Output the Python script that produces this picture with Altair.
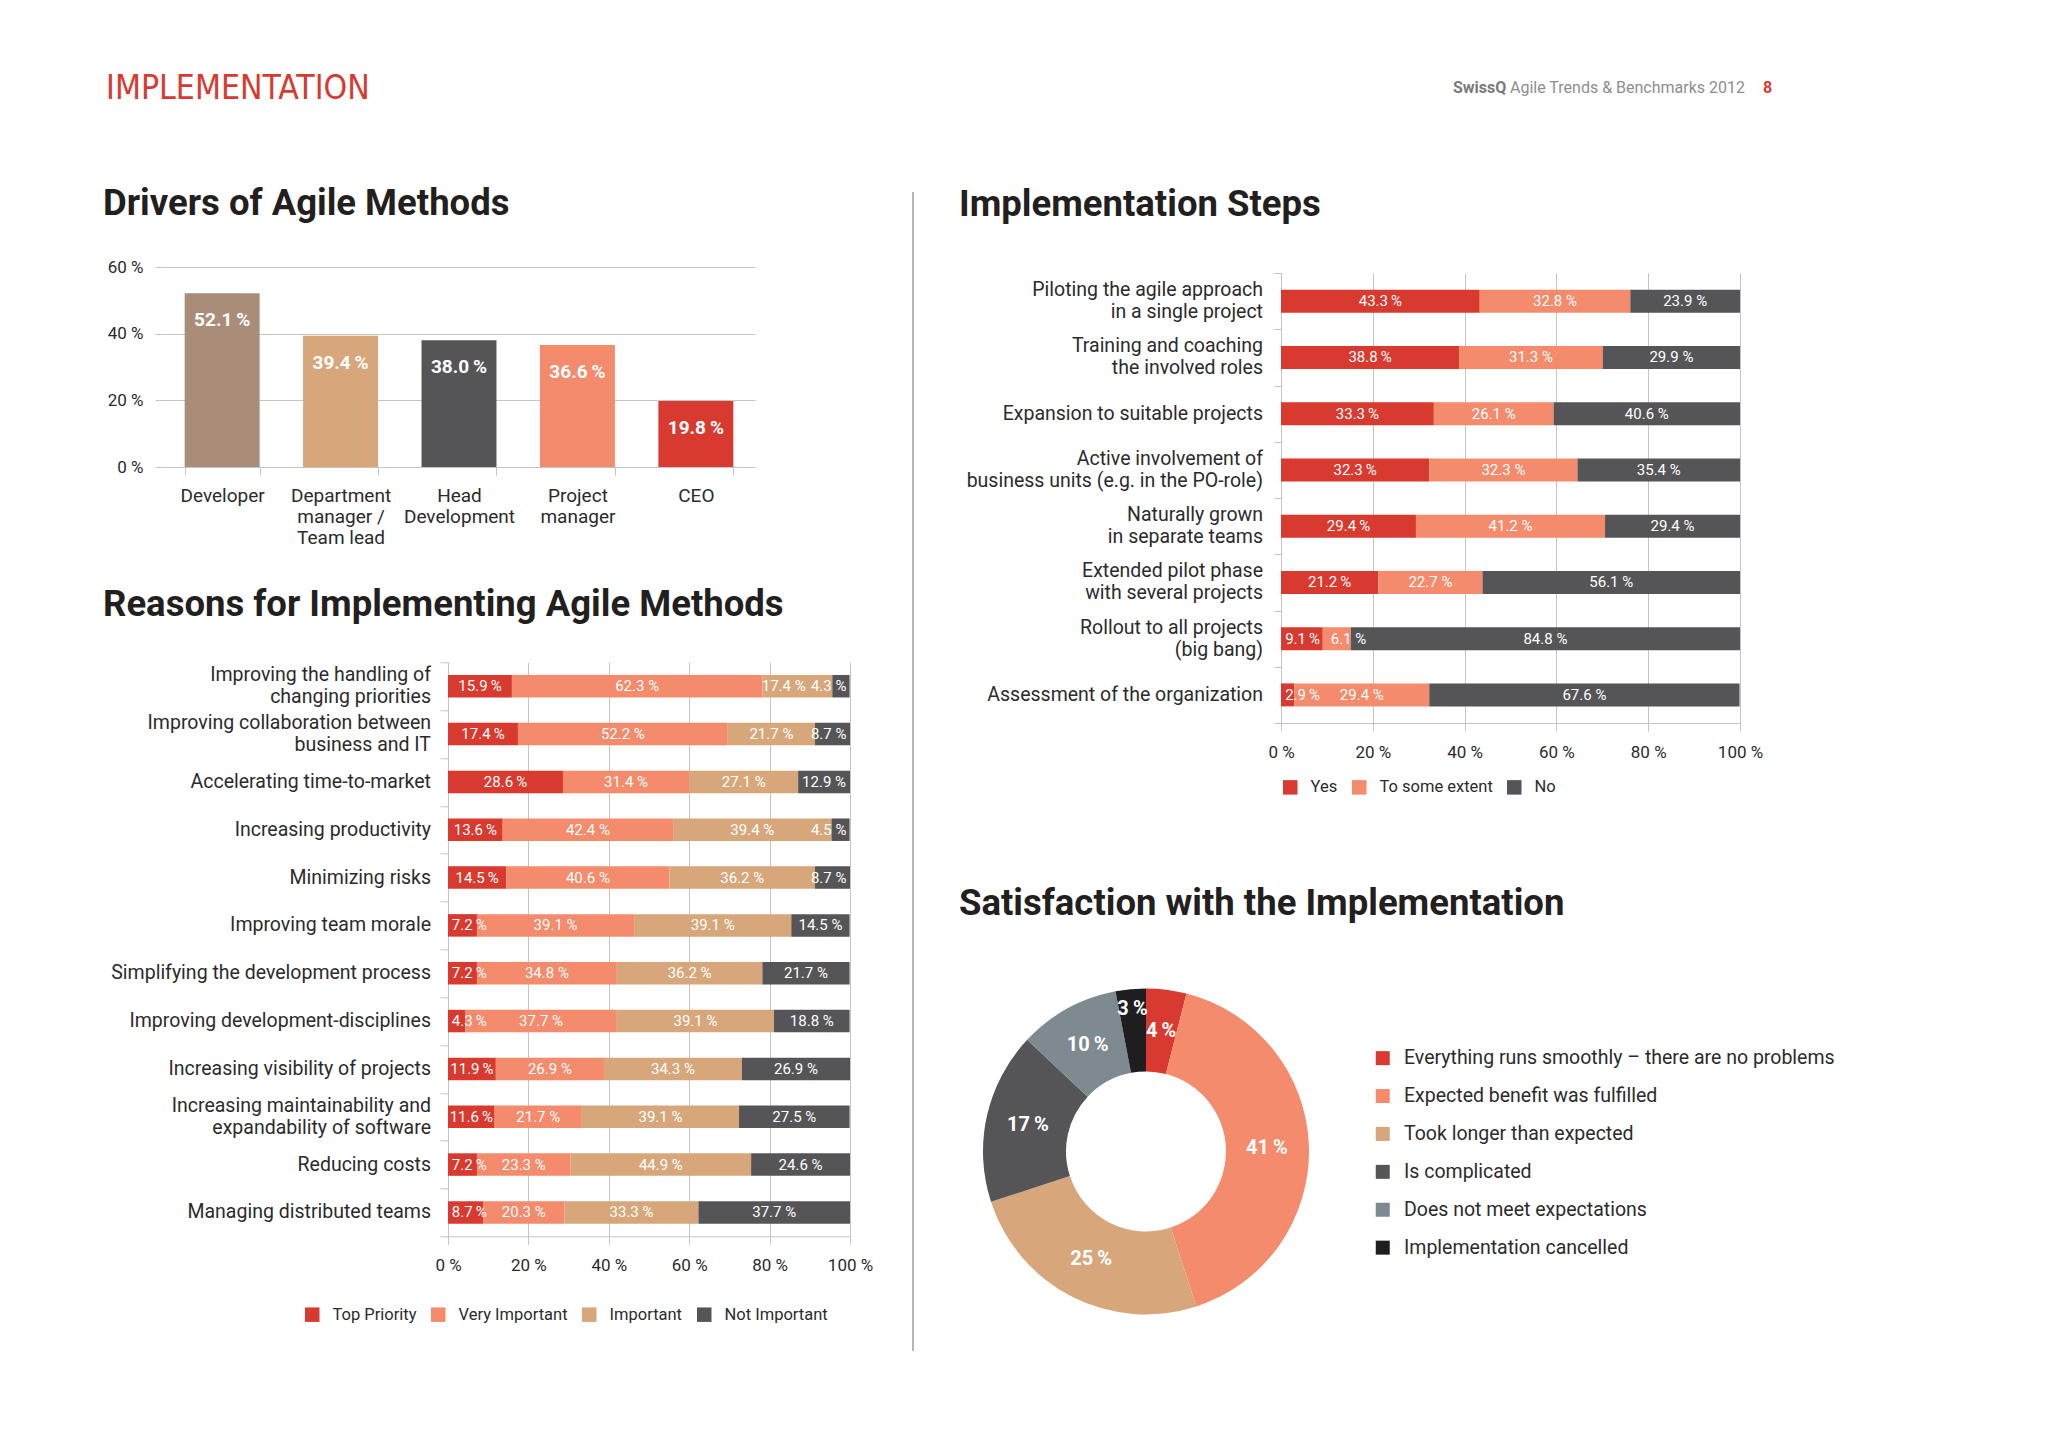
import altair as alt
import pandas as pd

FONT = "Roboto, 'DejaVu Sans', sans-serif"
HEAD_FONT = "'Liberation Sans Narrow', 'DejaVu Sans Condensed', Roboto, sans-serif"
INK = "#231f20"
LABEL = "#2b2b2b"
GRID = "#c4c4c4"
RED = "#d93a2f"
SALMON = "#f38b6c"
TAN = "#d7a77b"
BROWN = "#a98d79"
DARK = "#555557"
SLATE = "#7e8a90"
BLACK = "#1e1e21"

# ---------------- data ----------------
driver_roles = ["Developer", "Department\nmanager /\nTeam lead", "Head\nDevelopment",
                "Project\nmanager", "CEO"]
driver_share = [52.1, 39.4, 38.0, 36.6, 19.8]
driver_colors = [BROWN, TAN, DARK, SALMON, RED]

reason_items = [
    "Improving the handling of\nchanging priorities",
    "Improving collaboration between\nbusiness and IT",
    "Accelerating time-to-market",
    "Increasing productivity",
    "Minimizing risks",
    "Improving team morale",
    "Simplifying the development process",
    "Improving development-disciplines",
    "Increasing visibility of projects",
    "Increasing maintainability and\nexpandability of software",
    "Reducing costs",
    "Managing distributed teams",
]
reason_levels = ["Top Priority", "Very Important", "Important", "Not Important"]
reason_top = [15.9, 17.4, 28.6, 13.6, 14.5, 7.2, 7.2, 4.3, 11.9, 11.6, 7.2, 8.7]
reason_very = [62.3, 52.2, 31.4, 42.4, 40.6, 39.1, 34.8, 37.7, 26.9, 21.7, 23.3, 20.3]
reason_imp = [17.4, 21.7, 27.1, 39.4, 36.2, 39.1, 36.2, 39.1, 34.3, 39.1, 44.9, 33.3]
reason_not = [4.3, 8.7, 12.9, 4.5, 8.7, 14.5, 21.7, 18.8, 26.9, 27.5, 24.6, 37.7]
reason_colors = [RED, SALMON, TAN, DARK]

step_items = [
    "Piloting the agile approach\nin a single project",
    "Training and coaching\nthe involved roles",
    "Expansion to suitable projects",
    "Active involvement of\nbusiness units (e.g. in the PO-role)",
    "Naturally grown\nin separate teams",
    "Extended pilot phase\nwith several projects",
    "Rollout to all projects\n(big bang)",
    "Assessment of the organization",
]
step_levels = ["Yes", "To some extent", "No"]
step_yes = [43.3, 38.8, 33.3, 32.3, 29.4, 21.2, 9.1, 2.9]
step_some = [32.8, 31.3, 26.1, 32.3, 41.2, 22.7, 6.1, 29.4]
step_no = [23.9, 29.9, 40.6, 35.4, 29.4, 56.1, 84.8, 67.6]
step_colors = [RED, SALMON, DARK]

sat_answers = [
    "Everything runs smoothly \u2013 there are no problems",
    "Expected benefit was fulfilled",
    "Took longer than expected",
    "Is complicated",
    "Does not meet expectations",
    "Implementation cancelled",
]
sat_share = [4, 41, 25, 17, 10, 3]
sat_colors = [RED, SALMON, TAN, DARK, SLATE, BLACK]

deco_df = pd.DataFrame({"k": [0]})
deco = alt.Chart(deco_df)


def heading(text, x, y):
    # section heading, placed relative to the plot area it belongs to
    return deco.mark_text(text=text, fontSize=36.5, fontWeight="bold", color=INK, font=FONT,
                          align="left", baseline="alphabetic").encode(
        x=alt.value(x), y=alt.value(y))


# ---------------- drivers ----------------
drivers_df = pd.DataFrame({
    "role": driver_roles,
    "share": driver_share,
    "label": [f"{v:.1f}\u2009%" for v in driver_share],
})
drv_x = alt.X("role:N", sort=driver_roles,
              scale=alt.Scale(paddingInner=0.367, paddingOuter=0.183),
              axis=alt.Axis(title=None, labelAngle=0, labelExpr="split(datum.label, '\\n')",
                            tickBand="extent", tickSize=8, labelPadding=11, labelFontSize=19,
                            labelLineHeight=21, labelColor=LABEL, domainColor=GRID,
                            tickColor=GRID, grid=False))
drv_y = alt.Y("share:Q", scale=alt.Scale(domain=[0, 60]),
              axis=alt.Axis(title=None, values=[0, 20, 40, 60], labelExpr="datum.value + ' %'",
                            domain=False, tickSize=8, tickColor=GRID, gridColor=GRID,
                            labelPadding=12, labelFontSize=17, labelColor=LABEL,
                            labelFlush=False))
drv_base = alt.Chart(drivers_df)
drv_bars = drv_base.mark_bar().encode(
    x=drv_x, y=drv_y,
    color=alt.Color("role:N", scale=alt.Scale(domain=driver_roles, range=driver_colors),
                    legend=None))
drv_text = drv_base.mark_text(baseline="top", dy=18, color="white", fontSize=19,
                              fontWeight="bold").encode(
    x=alt.X("role:N", sort=driver_roles), y="share:Q", text="label:N")
drivers = alt.layer(drv_bars, drv_text, heading("Drivers of Agile Methods", -60, -52)
                    ).properties(width=592, height=200)


# ---------------- stacked bars ----------------
def stacked_frame(items, levels, series):
    rows = []
    for rank, (level, values) in enumerate(zip(levels, series)):
        for item, v in zip(items, values):
            rows.append({"item": item, "level": level, "rank": rank, "value": v,
                         "label": f"{v:.1f}\u2009%" if rank == 0 else f"{v:.1f} %"})
    return pd.DataFrame(rows)


def category_labels(items, x):
    # category names as text, two-line names centred on their bar
    rows = []
    for it in items:
        lines = it.split("\n")
        if len(lines) == 1:
            rows.append({"item": it, "line": lines[0], "pos": 0})
        else:
            rows.append({"item": it, "line": lines[0], "pos": -1})
            rows.append({"item": it, "line": lines[1], "pos": 1})
    df = pd.DataFrame(rows)
    out = []
    for pos in (-1, 0, 1):
        out.append(alt.Chart(df).transform_filter(alt.datum.pos == pos).mark_text(
            align="right", baseline="middle", dy=11 * pos, fontSize=19.5, color=LABEL
        ).encode(y=alt.Y("item:N", sort=items), x=alt.value(x), text="line:N"))
    return out


def stacked_chart(df, items, levels, colors, width, height, bar_size, y_tick, y_pad,
                  legend_x, legend_y, ttl, tx, ty, inset):
    y = alt.Y("item:N", sort=items, scale=alt.Scale(paddingInner=0, paddingOuter=0),
              axis=alt.Axis(title=None, labels=False, tickBand="extent", tickSize=y_tick,
                            domainColor=GRID, tickColor=GRID, grid=False))
    x_axis = alt.Axis(title=None, values=[0, 20, 40, 60, 80, 100],
                      labelExpr="datum.value + ' %'", tickSize=8, labelPadding=13,
                      labelFontSize=17, labelColor=LABEL, domainColor=GRID,
                      tickColor=GRID, gridColor=GRID, labelFlush=False)
    base = alt.Chart(df)
    bars = base.mark_bar(size=bar_size).encode(
        y=y,
        x=alt.X("value:Q", stack="zero", scale=alt.Scale(domain=[0, 100]), axis=x_axis),
        color=alt.Color("level:N", scale=alt.Scale(domain=levels, range=colors),
                        legend=alt.Legend(title=None, orient="none", legendX=legend_x,
                                          legendY=legend_y, direction="horizontal",
                                          symbolType="square", symbolSize=210,
                                          symbolStrokeWidth=0, labelFontSize=16.5,
                                          labelColor=LABEL, columnPadding=13,
                                          labelOffset=12)),
        order=alt.Order("rank:Q"))
    lo_b, hi_b, gap = inset, 100 - inset, 2 * inset + 0.6
    last = len(levels) - 1
    labels = base.transform_window(
        cum="sum(value)", lagv="lag(value)", leadv="lead(value)",
        sort=[alt.SortField("rank")], groupby=["item"], frame=[None, 0]
    ).transform_calculate(
        base_mid=f"clamp(datum.cum - datum.value / 2, {lo_b}, {hi_b})",
        lo=(f"datum.rank == 1 ? clamp(datum.cum - datum.value - datum.lagv / 2, {lo_b}, {hi_b})"
            f" + {gap} : -1000"),
        hi=(f"datum.rank == {last - 1} ? clamp(datum.cum + datum.leadv / 2, {lo_b}, {hi_b})"
            f" - {gap} : 1000"),
    ).transform_calculate(
        mid="min(max(datum.base_mid, datum.lo), datum.hi)"
    ).mark_text(color="white", fontSize=15, baseline="middle").encode(
        y=alt.Y("item:N", sort=items), x="mid:Q", text="label:N")
    cats = category_labels(items, -(y_tick + y_pad))
    return alt.layer(bars, labels, *cats, heading(ttl, tx, ty)).properties(
        width=width, height=height)


reasons = stacked_chart(
    stacked_frame(reason_items, reason_levels, [reason_top, reason_very, reason_imp, reason_not]),
    reason_items, reason_levels, reason_colors, 402, 574, 22.5, 8, 9, -144, 644,
    "Reasons for Implementing Agile Methods", -345, -46.7, 5.3)

steps = stacked_chart(
    stacked_frame(step_items, step_levels, [step_yes, step_some, step_no]),
    step_items, step_levels, step_colors, 459, 450, 23, 7, 11, 1, 506,
    "Implementation Steps", -322, -57.4, 4.7)

# ---------------- satisfaction donut ----------------
sat_df = pd.DataFrame({
    "answer": sat_answers,
    "share": sat_share,
    "rank": list(range(len(sat_answers))),
    "label": [f"{v}\u2009%" for v in sat_share],
})
sat_base = alt.Chart(sat_df).encode(theta=alt.Theta("share:Q", stack=True),
                                    order=alt.Order("rank:Q"))
sat_arcs = sat_base.mark_arc(outerRadius=163, innerRadius=80).encode(
    color=alt.Color("answer:N", scale=alt.Scale(domain=sat_answers, range=sat_colors),
                    legend=alt.Legend(title=None, orient="none", legendX=390, legendY=60,
                                      symbolType="square", symbolSize=196,
                                      symbolStrokeWidth=0, labelFontSize=19.5,
                                      labelColor=LABEL, rowPadding=16.9, labelOffset=11.5,
                                      labelLimit=600)))
sat_big = sat_base.transform_calculate(txt="datum.share >= 4 ? datum.label : ''").mark_text(
    radius=121, fontSize=20, fontWeight="bold", color="white").encode(text="txt:N")
sat_small = sat_base.transform_calculate(txt="datum.share < 4 ? datum.label : ''").mark_text(
    radius=143, fontSize=20, fontWeight="bold", color="white").encode(text="txt:N")
satisfaction = alt.layer(sat_arcs, sat_big, sat_small,
                         heading("Satisfaction with the Implementation", -24, -73.7)
                         ).properties(width=326, height=326)

# ---------------- page furniture ----------------
h_main = deco.mark_text(text="IMPLEMENTATION", font=HEAD_FONT, fontSize=33.5, color=RED,
                        align="left", baseline="alphabetic").encode(
    x=alt.value(4), y=alt.value(30))
h_brand = deco.mark_text(text="SwissQ", fontSize=16, fontWeight="bold", color="#7a7a7a",
                         align="left", baseline="alphabetic").encode(
    x=alt.value(1351), y=alt.value(23.5))
h_pub = deco.mark_text(text="Agile Trends & Benchmarks 2012", fontSize=16, color="#8e8e8e",
                       align="left", baseline="alphabetic").encode(
    x=alt.value(1408), y=alt.value(23.5))
h_page = deco.mark_text(text="8", fontSize=16, fontWeight="bold", color=RED,
                        align="left", baseline="alphabetic").encode(
    x=alt.value(1661), y=alt.value(23.5))
header = alt.layer(h_main, h_brand, h_pub, h_page).properties(width=1670, height=30)

divider = deco.mark_rule(color="#9d9d9d", strokeWidth=1.5).encode(
    x=alt.value(0), y=alt.value(6), y2=alt.value(1165)).properties(width=6, height=1165)


def spacer():
    # 1x1 invisible cell: puts the real views into a flow (bounds-aligned) grid cell
    return deco.mark_rect(opacity=0).encode(
        x=alt.value(0), x2=alt.value(1), y=alt.value(0), y2=alt.value(1)
    ).properties(width=1, height=1)


def column(charts, gap):
    cells = []
    for c in charts:
        cells += [spacer(), c]
    return alt.concat(*cells, columns=2, align="none",
                      spacing={"row": gap, "column": 0}).resolve_scale(color="independent")


left = column([drivers, reasons], 39.3)
right = column([steps, satisfaction], 89.4)
main = alt.concat(spacer(), spacer(), spacer(), left, divider, right, columns=3,
                  align="none", spacing={"row": 0, "column": 39}).resolve_scale(
    color="independent")

chart = alt.concat(header, main, columns=1, align="none", spacing=79).resolve_scale(
    color="independent"
).properties(
    padding={"left": 94, "top": 61, "right": 20, "bottom": 20},
    background="white",
).configure(font=FONT).configure_view(strokeWidth=0).configure_axis(
    labelFont=FONT).configure_legend(labelFont=FONT)

chart.save("out.html", embed_options={"renderer": "svg", "actions": False})
